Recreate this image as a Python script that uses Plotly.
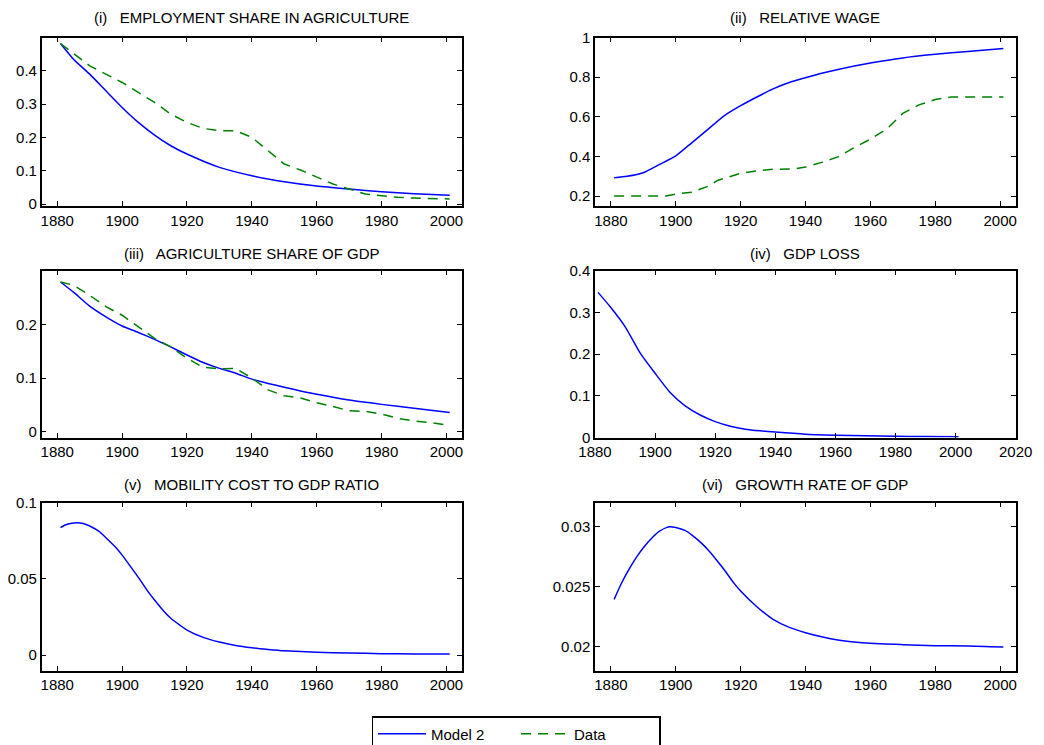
import plotly.graph_objects as go

# ---------------- data ----------------
# (i) Employment share in agriculture
emp_model_years = [1881, 1885, 1890, 1895, 1900, 1905, 1910, 1915, 1920, 1930, 1940, 1950, 1960, 1970, 1980, 1990, 2001]
emp_model = [0.482, 0.435, 0.39, 0.34, 0.29, 0.245, 0.207, 0.175, 0.15, 0.11, 0.085, 0.067, 0.054, 0.045, 0.037, 0.031, 0.026]
emp_data_years = [1881, 1888, 1890, 1900, 1910, 1915, 1920, 1925, 1930, 1935, 1940, 1945, 1950, 1955, 1960, 1965, 1970, 1975, 1980, 1985, 1990, 2001]
emp_data = [0.482, 0.43, 0.415, 0.365, 0.305, 0.27, 0.245, 0.227, 0.22, 0.22, 0.2, 0.16, 0.12, 0.102, 0.082, 0.06, 0.045, 0.03, 0.025, 0.02, 0.018, 0.015]

# (ii) Relative wage
wage_model_years = [1881, 1885, 1890, 1895, 1900, 1905, 1910, 1915, 1920, 1925, 1930, 1935, 1940, 1945, 1950, 1960, 1970, 1980, 1990, 2001]
wage_model = [0.293, 0.30, 0.318, 0.36, 0.403, 0.47, 0.538, 0.606, 0.656, 0.70, 0.741, 0.773, 0.797, 0.82, 0.839, 0.871, 0.897, 0.915, 0.93, 0.944]
wage_data_years = [1881, 1890, 1897, 1900, 1905, 1910, 1913, 1920, 1925, 1930, 1937, 1940, 1945, 1950, 1955, 1960, 1965, 1970, 1975, 1980, 1985, 1990, 2001]
wage_data = [0.2, 0.2, 0.2, 0.21, 0.22, 0.25, 0.28, 0.315, 0.327, 0.335, 0.338, 0.347, 0.37, 0.398, 0.445, 0.487, 0.538, 0.617, 0.66, 0.687, 0.70, 0.70, 0.70]

# (iii) Agriculture share of GDP
gdpsh_model_years = [1881, 1885, 1890, 1895, 1900, 1905, 1910, 1915, 1920, 1925, 1930, 1935, 1940, 1945, 1950, 1955, 1960, 1970, 1980, 1990, 2001]
gdpsh_model = [0.279, 0.26, 0.234, 0.214, 0.197, 0.185, 0.172, 0.158, 0.143, 0.129, 0.118, 0.109, 0.098, 0.09, 0.083, 0.076, 0.07, 0.059, 0.051, 0.044, 0.036]
gdpsh_data_years = [1881, 1885, 1890, 1895, 1900, 1905, 1910, 1915, 1920, 1925, 1930, 1935, 1940, 1945, 1950, 1955, 1960, 1965, 1970, 1975, 1980, 1985, 1990, 1995, 2001]
gdpsh_data = [0.279, 0.273, 0.254, 0.233, 0.217, 0.196, 0.174, 0.158, 0.137, 0.12, 0.117, 0.118, 0.1, 0.078, 0.067, 0.063, 0.054, 0.047, 0.039, 0.038, 0.033, 0.025, 0.02, 0.017, 0.012]

# (iv) GDP loss
loss_years = [1881, 1885, 1890, 1895, 1900, 1905, 1910, 1915, 1920, 1925, 1930, 1935, 1940, 1950, 1960, 1970, 1980, 1990, 2001]
loss_model = [0.348, 0.314, 0.266, 0.203, 0.154, 0.108, 0.076, 0.054, 0.038, 0.027, 0.02, 0.016, 0.013, 0.008, 0.0056, 0.004, 0.003, 0.0024, 0.0016]

# (v) Mobility cost to GDP ratio
mob_years = [1881, 1883, 1886, 1888, 1890, 1893, 1895, 1898, 1900, 1903, 1905, 1908, 1910, 1913, 1915, 1918, 1920, 1925, 1930, 1935, 1940, 1945, 1950, 1960, 1970, 1980, 1990, 2001]
mob_model = [0.0836, 0.0858, 0.0869, 0.0864, 0.0847, 0.081, 0.077, 0.0707, 0.0656, 0.0569, 0.051, 0.0416, 0.0361, 0.0284, 0.0241, 0.0193, 0.0164, 0.0116, 0.0085, 0.0063, 0.0048, 0.0037, 0.0028, 0.0018, 0.0013, 0.0009, 0.0007, 0.0006]

# (vi) Growth rate of GDP
gr_years = [1881, 1883, 1885, 1888, 1890, 1893, 1895, 1898, 1900, 1903, 1905, 1908, 1910, 1913, 1915, 1918, 1920, 1925, 1930, 1935, 1940, 1945, 1950, 1955, 1960, 1970, 1980, 1990, 2001]
gr_model = [0.02394, 0.02514, 0.02617, 0.0275, 0.02825, 0.02917, 0.02964, 0.0300, 0.02994, 0.02967, 0.0293, 0.02861, 0.02806, 0.02708, 0.02639, 0.02528, 0.02464, 0.02333, 0.02228, 0.02161, 0.02117, 0.02083, 0.02056, 0.02039, 0.02028, 0.02017, 0.02008, 0.02006, 0.01997]

titles = ["(i)   EMPLOYMENT SHARE IN AGRICULTURE", "(ii)   RELATIVE WAGE",
          "(iii)   AGRICULTURE SHARE OF GDP", "(iv)   GDP LOSS",
          "(v)   MOBILITY COST TO GDP RATIO", "(vi)   GROWTH RATE OF GDP"]

x_ticks_std = [1880, 1900, 1920, 1940, 1960, 1980, 2000]
x_ticks_iv = [1880, 1900, 1920, 1940, 1960, 1980, 2000, 2020]
y_ticks = [
    ([0, 0.1, 0.2, 0.3, 0.4], ["0", "0.1", "0.2", "0.3", "0.4"]),
    ([0.2, 0.4, 0.6, 0.8, 1.0], ["0.2", "0.4", "0.6", "0.8", "1"]),
    ([0, 0.1, 0.2], ["0", "0.1", "0.2"]),
    ([0, 0.1, 0.2, 0.3, 0.4], ["0", "0.1", "0.2", "0.3", "0.4"]),
    ([0, 0.05, 0.1], ["0", "0.05", "0.1"]),
    ([0.02, 0.025, 0.03], ["0.02", "0.025", "0.03"]),
]
# ---------------- styling / layout ----------------
W, H = 1044, 745
OFF = 8  # page body margin offset
FONT = "Liberation Sans Narrow, Arial Narrow, Liberation Sans, Arial, sans-serif"
FS = 15
BLUE = "#0000ff"
GREEN = "#008000"

col_px = [(41.7, 462.0), (595.0, 1015.7)]
row_px = [(37.5, 206.0), (270.7, 437.5), (502.7, 670.7)]
title_py = [18, 253, 484]

x_ranges = [[1875.2, 2004.8], [1875.1, 2004.8], [1875.2, 2004.8], [1880, 2020], [1875.2, 2004.8], [1875.1, 2004.8]]
y_ranges = [[-0.006, 0.5], [0.15, 1.0], [-0.0107, 0.3], [0, 0.4], [-0.0103, 0.1], [0.018, 0.032]]

def px_x(v):
    return (v - OFF) / W

def px_y(v):
    return 1 - (v - OFF) / H

fig = go.Figure()

def ax(i):
    return ("x" if i == 0 else f"x{i+1}", "y" if i == 0 else f"y{i+1}")

line_model = dict(color=BLUE, width=1.5)
line_data = dict(color=GREEN, width=1.5, dash="10px,7px")

series = [
    [(emp_model_years, emp_model, "m"), (emp_data_years, emp_data, "d")],
    [(wage_model_years, wage_model, "m"), (wage_data_years, wage_data, "d")],
    [(gdpsh_model_years, gdpsh_model, "m"), (gdpsh_data_years, gdpsh_data, "d")],
    [(loss_years, loss_model, "m")],
    [(mob_years, mob_model, "m")],
    [(gr_years, gr_model, "m")],
]

shown = set()
for i, ss in enumerate(series):
    xa, ya = ax(i)
    for xs, ys, kind in ss:
        name = "Model 2" if kind == "m" else "Data"
        fig.add_trace(go.Scatter(
            x=xs, y=ys, mode="lines", name=name,
            line=dict(line_model, shape="spline", smoothing=0.6) if kind == "m" else line_data,
            xaxis=xa, yaxis=ya, showlegend=(name not in shown), hoverinfo="skip"))
        shown.add(name)

layout = dict(
    template="none",
    width=W, height=H, margin=dict(l=0, r=0, t=0, b=0, autoexpand=False),
    paper_bgcolor="white", plot_bgcolor="white",
    font=dict(family=FONT, size=FS, color="black"),
    showlegend=True,
    legend=dict(orientation="h", x=px_x(516), xanchor="center", y=px_y(716), yanchor="top",
                bordercolor="black", borderwidth=1.5, bgcolor="white",
                font=dict(family=FONT, size=FS), entrywidth=80, itemwidth=48),
)
annotations = []
for i in range(6):
    r, c = divmod(i, 2)
    x0, x1 = col_px[c]
    y0, y1 = row_px[r]
    xkey = "xaxis" if i == 0 else f"xaxis{i+1}"
    ykey = "yaxis" if i == 0 else f"yaxis{i+1}"
    xa, ya = ax(i)
    xt = x_ticks_iv if i == 3 else x_ticks_std
    common = dict(showgrid=False, zeroline=False, showline=True, linecolor="black",
                  linewidth=1.5, mirror="ticks", ticks="inside", ticklen=5, tickwidth=1,
                  tickcolor="black", tickfont=dict(size=FS), automargin=False)
    layout[xkey] = dict(domain=[px_x(x0), px_x(x1)], anchor=ya, range=x_ranges[i],
                        tickvals=xt, ticktext=[str(v) for v in xt], **common)
    layout[ykey] = dict(domain=[px_y(y1), px_y(y0)], anchor=xa, range=y_ranges[i],
                        tickvals=y_ticks[i][0], ticktext=y_ticks[i][1], **common)
    annotations.append(dict(text=titles[i], xref="paper", yref="paper",
                            x=px_x((x0 + x1) / 2), y=px_y(title_py[r]),
                            xanchor="center", yanchor="middle", showarrow=False,
                            font=dict(family=FONT, size=FS, color="black")))
layout["annotations"] = annotations
fig.update_layout(**layout)

fig.write_html("out.html")
